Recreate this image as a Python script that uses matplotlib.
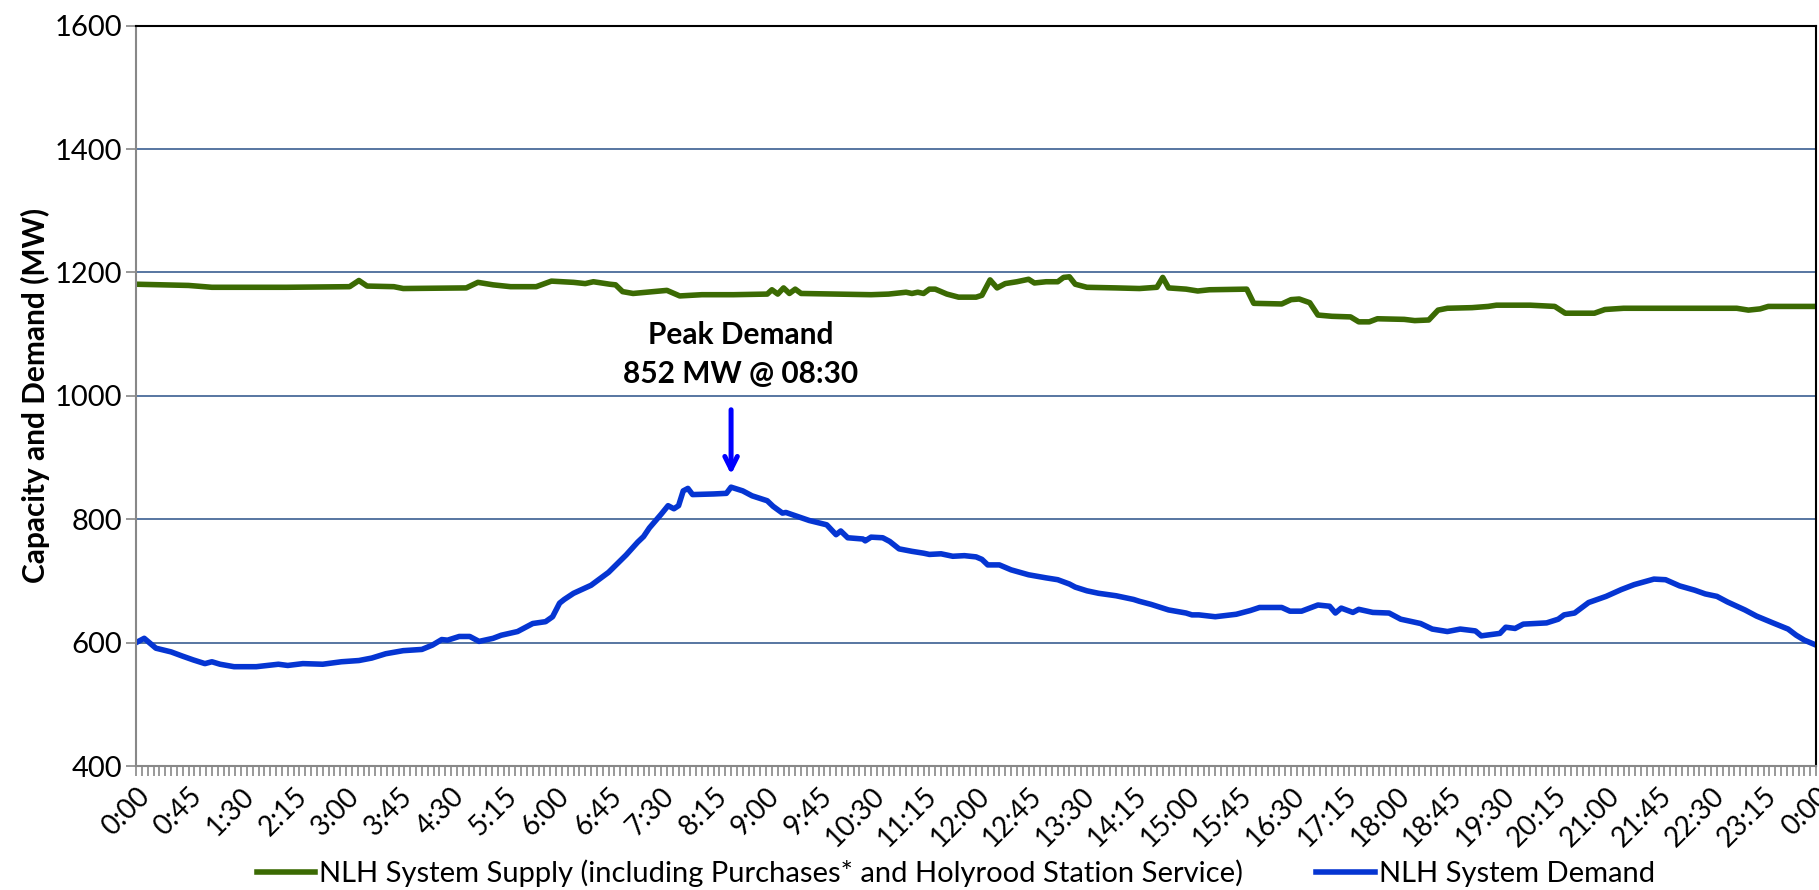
import matplotlib.pyplot as plt
from matplotlib.ticker import FixedLocator, MultipleLocator

plt.rcParams['font.family'] = ['Lato', 'DejaVu Sans']

# NLH system demand (MW)
demand_t = ["0:00", "0:02", "0:07", "0:17", "0:30", "0:40", "0:49", "0:59", "1:05", "1:12", "1:24",
            "1:43", "2:02", "2:10", "2:23", "2:40", "2:56", "3:11", "3:22", "3:34", "3:49", "4:05",
            "4:14", "4:22", "4:27", "4:37", "4:46", "4:54", "5:06", "5:13", "5:27", "5:40", "5:51",
            "5:57", "6:03", "6:07", "6:15", "6:30", "6:45", "7:00", "7:10", "7:15", "7:20", "7:30",
            "7:36", "7:41", "7:45", "7:49", "7:53", "7:57", "8:15", "8:26", "8:30", "8:40",
            "8:48", "9:01", "9:06", "9:14", "9:17", "9:37", "9:52", "10:00", "10:04", "10:10",
            "10:23", "10:25", "10:30", "10:40", "10:46", "10:54", "11:05", "11:15", "11:20", "11:30",
            "11:40", "11:50", "12:00", "12:05", "12:10", "12:20", "12:30", "12:45", "13:00", "13:10",
            "13:20", "13:25", "13:35", "13:45", "14:00", "14:15", "14:20", "14:30", "14:45", "15:00",
            "15:05", "15:11", "15:25", "15:43", "15:55", "16:03", "16:22", "16:29", "16:39", "16:53",
            "17:03", "17:08", "17:13", "17:23", "17:28", "17:40", "17:54", "18:04", "18:21", "18:31",
            "18:44", "18:55", "19:08", "19:13", "19:29", "19:34", "19:42", "19:49", "20:09", "20:19",
            "20:24", "20:33", "20:45", "21:00", "21:13", "21:24", "21:41", "21:51", "22:03", "22:16",
            "22:25", "22:35", "22:44", "22:59", "23:09", "23:23", "23:36", "23:43", "23:50", "24:00"]
demand_mw = [600, 602, 607, 591, 585, 578, 572, 566, 569, 565, 561,
             561, 565, 563, 566, 565, 569, 571, 575, 582, 587, 589,
             596, 605, 604, 610, 610, 602, 607, 612, 618, 631, 634,
             642, 664, 670, 680, 693, 714, 742, 763, 772, 786, 808,
             822, 817, 822, 846, 850, 840, 841, 842, 852, 846,
             838, 830, 821, 810, 811, 798, 791, 775, 781, 770,
             768, 765, 771, 770, 764, 752, 748, 745, 743, 744,
             740, 741, 739, 735, 726, 726, 718, 710, 705, 702,
             695, 690, 684, 680, 676, 670, 667, 662, 653, 648,
             645, 645, 642, 646, 652, 657, 657, 651, 651, 661,
             659, 648, 656, 649, 654, 649, 648, 638, 631, 622,
             618, 622, 619, 611, 615, 625, 623, 630, 632, 638,
             645, 648, 665, 675, 686, 694, 703, 702, 692, 685,
             679, 675, 666, 653, 643, 632, 622, 612, 604, 596]

# NLH system supply (MW)
supply_t = ["0:00", "0:45", "1:05", "2:09", "3:03", "3:11", "3:18", "3:41", "3:49", "4:43",
            "4:53", "5:06", "5:21", "5:43", "5:56", "6:15", "6:25", "6:32", "6:46", "6:51",
            "6:57", "7:06", "7:35", "7:46", "8:05", "8:32", "9:01", "9:05", "9:10", "9:15",
            "9:20", "9:25", "9:30", "10:00", "10:30", "10:45", "11:00", "11:05", "11:10", "11:15",
            "11:20", "11:25", "11:35", "11:45", "12:00", "12:05", "12:12", "12:18", "12:25",
            "12:35", "12:45", "12:50", "13:00", "13:10", "13:15", "13:20", "13:25", "13:35",
            "14:00", "14:20", "14:35", "14:40", "14:45", "15:00", "15:10", "15:20", "15:52",
            "15:58", "16:22", "16:30", "16:37", "16:46", "16:53", "17:05", "17:21", "17:28",
            "17:37", "17:44", "18:07", "18:16", "18:28", "18:36", "18:44", "19:05", "19:19",
            "19:26", "19:55", "20:16", "20:25", "20:50", "20:59", "21:15", "22:52", "23:02",
            "23:12", "23:19", "24:00"]
supply_mw = [1181, 1179, 1176, 1176, 1177, 1187, 1178, 1177, 1174, 1175,
             1184, 1180, 1177, 1177, 1186, 1184, 1182, 1185, 1181, 1180,
             1169, 1166, 1171, 1162, 1164, 1164, 1165, 1172, 1165, 1175,
             1166, 1173, 1166, 1165, 1164, 1165, 1168, 1166, 1168, 1166,
             1173, 1173, 1165, 1160, 1160, 1163, 1188, 1175, 1182,
             1185, 1189, 1183, 1185, 1185, 1192, 1193, 1181, 1176,
             1175, 1174, 1176, 1192, 1175, 1173, 1170, 1172, 1173,
             1150, 1149, 1156, 1157, 1151, 1131, 1129, 1128, 1120,
             1120, 1125, 1124, 1122, 1123, 1139, 1142, 1143, 1145,
             1147, 1147, 1145, 1134, 1134, 1140, 1142, 1142, 1139,
             1141, 1145, 1145]

xlabels = ["0:00", "0:45", "1:30", "2:15", "3:00", "3:45", "4:30", "5:15", "6:00", "6:45",
           "7:30", "8:15", "9:00", "9:45", "10:30", "11:15", "12:00", "12:45", "13:30", "14:15",
           "15:00", "15:45", "16:30", "17:15", "18:00", "18:45", "19:30", "20:15", "21:00",
           "21:45", "22:30", "23:15", "0:00"]


def to_min(s):
    h, m = s.split(":")
    return int(h) * 60 + int(m)


dx = [to_min(s) for s in demand_t]
sx = [to_min(s) for s in supply_t]

fig = plt.figure(figsize=(18.19, 8.90), dpi=100)
ax = fig.add_axes([0.0748, 0.1393, 0.9236, 0.8318])

ax.plot(sx, supply_mw, color='#3b6a03', lw=4.0, solid_joinstyle='round',
        label='NLH System Supply (including Purchases* and Holyrood Station Service)')
ax.plot(dx, demand_mw, color='#0535d2', lw=4.0, solid_joinstyle='round',
        label='NLH System Demand')

ax.set_xlim(0, 1440)
ax.set_ylim(400, 1600)
ax.set_yticks([400, 600, 800, 1000, 1200, 1400, 1600])
ax.yaxis.grid(True, color='#4a6b9a', lw=1.3)
ax.set_axisbelow(True)

ax.xaxis.set_major_locator(FixedLocator([i * 45 for i in range(33)]))
ax.set_xticklabels(xlabels, rotation=45, ha='right', va='top', rotation_mode='anchor')
ax.xaxis.set_minor_locator(MultipleLocator(5))
ax.tick_params(axis='x', which='both', length=7, width=1.2, color='#888888', pad=5,
               labelsize=20)
ax.tick_params(axis='y', length=7, width=1.2, color='#888888', pad=3, labelsize=21)

for side in ['left', 'bottom']:
    ax.spines[side].set_color('#888888')
    ax.spines[side].set_linewidth(1.5)
for side in ['top', 'right']:
    ax.spines[side].set_color('black')
    ax.spines[side].set_linewidth(1.5)

ax.set_ylabel('Capacity and Demand (MW)', fontsize=21.5, fontweight='bold')
ax.yaxis.set_label_coords(-0.051, 0.5)

ax.text(518, 1067, 'Peak Demand\n852 MW @ 08:30', ha='center', va='center',
        fontsize=21.5, fontweight='bold', linespacing=1.45)
ax.annotate('', xy=(510, 868), xytext=(510, 982),
            arrowprops=dict(arrowstyle='->,head_length=0.9,head_width=0.45',
                            color='#0000ff', lw=3.6))

fig.legend(loc='center', bbox_to_anchor=(0.5255, 0.019), ncol=2, frameon=False,
           fontsize=21, handlelength=2.0, columnspacing=2.5, handletextpad=0.15)

fig.savefig('out.png', dpi=100)
